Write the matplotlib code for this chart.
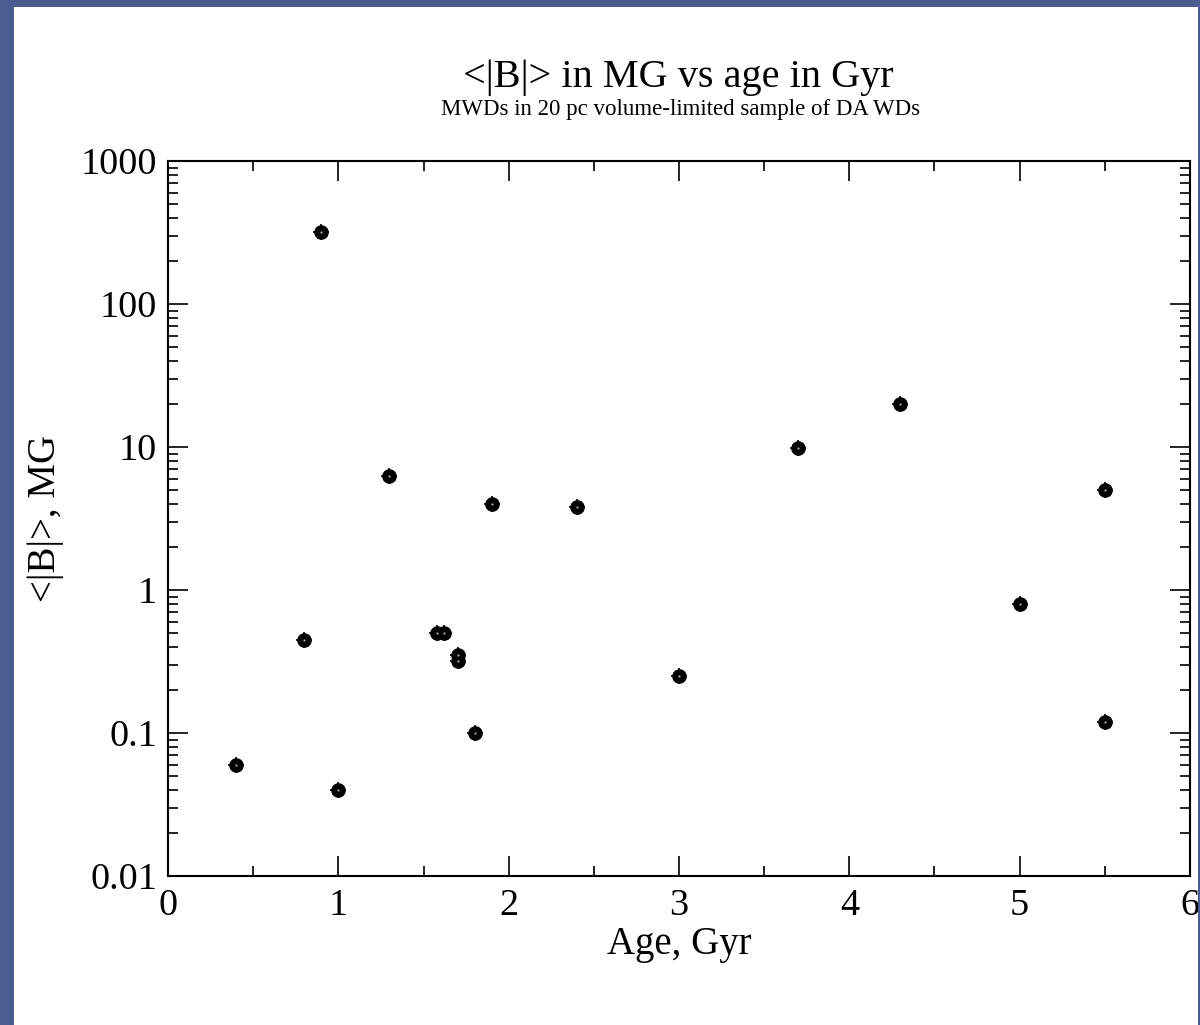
import numpy as np
import matplotlib
matplotlib.use("Agg")
import matplotlib.pyplot as plt
from matplotlib.patches import Rectangle
from matplotlib.ticker import LogLocator, NullFormatter, FixedLocator

plt.rcParams['font.family'] = ['Liberation Serif', 'DejaVu Serif']

# ── data ───────────────────────────────────────────────────────────────────────
age_gyr = [0.4, 0.8, 0.9, 1.0, 1.3, 1.58, 1.62, 1.7, 1.7, 1.8, 1.9, 2.4,
           3.0, 3.7, 4.3, 5.0, 5.5, 5.5]
b_mg    = [0.06, 0.45, 320, 0.04, 6.3, 0.5, 0.5, 0.35, 0.32, 0.1, 4.0, 3.8,
           0.25, 9.8, 20, 0.8, 5.0, 0.12]

x_ticks  = [0, 1, 2, 3, 4, 5, 6]
y_ticks  = [0.01, 0.1, 1, 10, 100, 1000]
y_labels = ["0.01", "0.1", "1", "10", "100", "1000"]

TITLE    = "<|B|> in MG vs age in Gyr"
SUBTITLE = "MWDs in 20 pc volume-limited sample of DA WDs"

BG_BLUE = "#4b5c93"
W, H = 1200, 1025

# ── figure ─────────────────────────────────────────────────────────────────────
fig = plt.figure(figsize=(W / 100, H / 100), dpi=100, facecolor=BG_BLUE)

# white slide panel, thin blue strip left/top/right
fig.patches.append(Rectangle((14 / W, 0), (1198 - 14) / W, 1 - 7 / H,
                             transform=fig.transFigure, facecolor="white",
                             edgecolor="none", zorder=-10))
fig.patches.append(Rectangle((1198 / W, 0), 2 / W, 1,
                             transform=fig.transFigure, facecolor=BG_BLUE,
                             edgecolor="none", zorder=10))

ax = fig.add_axes([168 / W, 1 - 876 / H, (1190 - 168) / W, (876 - 161) / H])
ax.set_facecolor("white")

ax.plot(age_gyr, b_mg, linestyle="none", marker="o", markersize=9.5,
        markerfacecolor="black", markeredgecolor="black", zorder=3)
ax.plot(age_gyr, b_mg, linestyle="none", marker="+", markersize=11.5,
        markeredgewidth=1.2, color="black", zorder=3)
ax.plot(age_gyr, b_mg, linestyle="none", marker=".", markersize=0.8,
        color="white", zorder=4)

ax.set_yscale("log")
ax.set_xlim(0, 6)
ax.set_ylim(0.01, 1000)

ax.xaxis.set_major_locator(FixedLocator(x_ticks))
ax.xaxis.set_minor_locator(FixedLocator([0.5, 1.5, 2.5, 3.5, 4.5, 5.5]))
ax.set_xticklabels([str(v) for v in x_ticks])
ax.yaxis.set_major_locator(FixedLocator(y_ticks))
ax.set_yticklabels(y_labels)
ax.yaxis.set_minor_locator(LogLocator(base=10, subs=np.arange(2, 10)))
ax.yaxis.set_minor_formatter(NullFormatter())

for s in ax.spines.values():
    s.set_linewidth(1.5)

ax.tick_params(which="both", direction="in", top=True, right=True,
               width=1.2, colors="black")
ax.tick_params(which="major", length=14.5, labelsize=27.5)
ax.tick_params(which="minor", length=7.5)
ax.tick_params(axis="x", which="major", pad=9)
ax.tick_params(axis="y", which="major", pad=8)

ax.set_xlabel("Age, Gyr", fontsize=28, labelpad=2)
ax.set_ylabel("<|B|>, MG", fontsize=28, labelpad=12)

fig.text(678 / W, 1 - 78 / H, TITLE, ha="center", va="center", fontsize=29)
fig.text(681 / W, 1 - 110 / H, SUBTITLE, ha="center", va="center", fontsize=16.5)

plt.savefig("out.png", dpi=100, facecolor=BG_BLUE)
